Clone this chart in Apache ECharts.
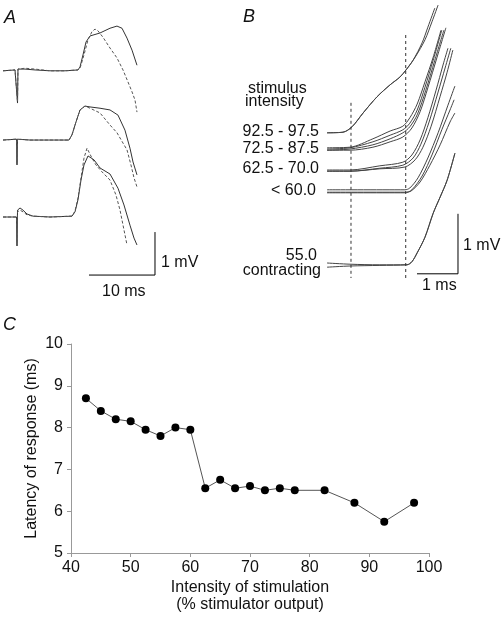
<!DOCTYPE html>
<html><head><meta charset="utf-8">
<script src="https://cdn.jsdelivr.net/npm/echarts@6/dist/echarts.min.js"></script>
<style>html,body{margin:0;padding:0;background:#fff}#c{width:502px;height:617px}</style>
</head><body><div id="c"></div>
<script>
// ---------- Panel A: traces (time ms, mV) ----------
const aTrace1Solid = [[0,5.33],[1.82,5.35],[2.12,5.37],[2.2,4.58],[2.27,5.37],[3.33,5.37],[4.85,5.35],[7.12,5.33],[9.39,5.33],[11.36,5.35],[11.67,5.42],[12.12,5.70],[12.58,6.00],[13.18,6.14],[14.70,6.21],[16.21,6.32],[17.27,6.37],[18.03,6.32],[18.79,6.09],[19.55,5.81],[20.30,5.46]];
const aTrace1Dash = [[0,5.33],[1.82,5.35],[2.12,5.37],[2.2,4.61],[2.27,5.37],[3.33,5.39],[4.85,5.37],[7.12,5.33],[9.39,5.33],[11.36,5.35],[11.67,5.39],[12.27,5.70],[12.88,6.05],[13.48,6.24],[13.94,6.30],[14.39,6.26],[15.15,6.11],[16.21,5.86],[17.27,5.63],[18.18,5.35],[18.94,5.07],[19.55,4.84],[20.0,4.65],[20.30,4.37]];
const aTrace2Solid = [[0,3.72],[2.05,3.74],[2.12,3.14],[2.2,3.74],[4.09,3.72],[7.12,3.72],[10.0,3.72],[10.45,3.84],[11.06,4.14],[11.67,4.42],[12.42,4.51],[13.18,4.49],[14.70,4.46],[16.21,4.42],[17.42,4.30],[18.48,3.95],[19.24,3.53],[19.70,3.21],[20.30,2.91]];
const aTrace2Dash = [[0,3.72],[2.05,3.74],[2.12,3.17],[2.2,3.74],[4.09,3.72],[7.12,3.72],[10.0,3.72],[10.45,3.84],[11.06,4.14],[11.67,4.42],[12.42,4.51],[13.18,4.46],[14.70,4.35],[16.21,4.07],[17.27,3.89],[18.18,3.65],[18.79,3.49],[19.39,3.14],[19.85,2.84],[20.30,2.63]];
const aTrace3Solid = [[0,1.93],[2.05,1.93],[2.12,1.26],[2.2,2.09],[2.58,2.14],[3.03,2.09],[3.64,2.00],[4.55,1.95],[7.12,1.93],[10.45,1.95],[10.91,2.05],[11.36,2.33],[11.82,2.79],[12.27,3.14],[12.88,3.35],[13.18,3.37],[13.79,3.26],[14.70,3.07],[16.21,2.93],[17.42,2.60],[18.33,2.21],[19.24,1.74],[19.85,1.44],[20.30,1.28]];
const aTrace3Dash = [[0,1.93],[2.05,1.93],[2.12,1.26],[2.2,2.05],[2.58,2.09],[3.03,2.05],[3.64,1.98],[4.55,1.95],[7.12,1.93],[10.45,1.95],[10.91,2.07],[11.36,2.37],[11.82,2.84],[12.27,3.30],[12.73,3.53],[13.03,3.53],[13.48,3.30],[14.09,3.14],[15.0,2.98],[16.21,2.79],[17.12,2.44],[17.73,2.09],[18.33,1.63],[18.79,1.28]];
const aScaleBar = [[13.03,0.58],[23.03,0.58],[23.03,1.58]];

// ---------- Panel B: traces (time ms, mV) ----------
const b925a = [[0,2.62],[0.39,2.63],[0.61,2.72],[0.88,2.95],[1.22,3.22],[1.54,3.42],[1.78,3.55],[1.93,3.67],[2.10,3.83],[2.32,4.12],[2.46,4.38],[2.63,4.70]];
const b925b = [[0,2.62],[0.39,2.63],[0.61,2.72],[0.88,2.95],[1.22,3.22],[1.54,3.42],[1.78,3.55],[1.93,3.67],[2.15,3.88],[2.39,4.17],[2.56,4.47],[2.71,4.75]];
const b725a = [[0,2.37],[0.56,2.38],[1.12,2.52],[1.54,2.65],[1.85,2.73],[2.02,2.87],[2.20,3.10],[2.39,3.47],[2.59,3.88],[2.78,4.33]];
const b725b = [[0,2.35],[0.56,2.37],[1.12,2.47],[1.54,2.58],[1.85,2.67],[2.02,2.78],[2.20,3.00],[2.39,3.38],[2.59,3.83],[2.80,4.33]];
const b725c = [[0,2.33],[0.56,2.35],[1.12,2.42],[1.54,2.52],[1.85,2.62],[2.02,2.72],[2.20,2.92],[2.41,3.33],[2.63,3.83],[2.85,4.33]];
const b725d = [[0,2.33],[0.56,2.33],[1.12,2.38],[1.54,2.47],[1.85,2.55],[2.07,2.70],[2.27,2.97],[2.46,3.37],[2.68,3.87],[2.90,4.37]];
const b625a = [[0,2.00],[0.56,2.00],[1.29,2.07],[1.85,2.13],[2.07,2.25],[2.27,2.50],[2.46,2.87],[2.66,3.33],[2.83,3.75],[2.95,4.03]];
const b625b = [[0,1.98],[0.56,1.98],[1.29,2.03],[1.85,2.08],[2.10,2.20],[2.29,2.43],[2.49,2.80],[2.71,3.30],[2.88,3.70],[3.02,4.03]];
const b625c = [[0,1.98],[0.56,1.98],[1.29,2.02],[1.90,2.05],[2.15,2.17],[2.34,2.38],[2.54,2.73],[2.76,3.23],[2.93,3.63],[3.07,4.00]];
const b60a = [[0,1.67],[1.90,1.67],[2.02,1.70],[2.22,1.87],[2.46,2.20],[2.71,2.62],[2.95,3.08],[3.12,3.40]];
const b60b = [[0,1.63],[1.90,1.63],[2.05,1.65],[2.27,1.80],[2.51,2.08],[2.76,2.42],[3.00,2.80],[3.12,2.95]];
const b60c = [[0,1.62],[1.90,1.62],[2.07,1.67],[2.32,1.90],[2.56,2.25],[2.80,2.67],[3.00,3.00],[3.10,3.17]];
const b55a = [[0,0.45],[0.56,0.43],[1.29,0.42],[1.95,0.42],[2.07,0.47],[2.20,0.62],[2.39,0.88],[2.59,1.28],[2.76,1.55],[2.93,1.83],[3.12,2.28]];
const b55b = [[0,0.38],[0.56,0.40],[1.29,0.41],[1.95,0.42],[2.07,0.47],[2.20,0.62],[2.39,0.88],[2.59,1.28],[2.76,1.55],[2.93,1.83],[3.12,2.28]];
const bMarker1 = [[0.585,3.12],[0.585,0.20]];
const bMarker2 = [[1.92,4.25],[1.92,0.20]];
const bScaleBar = [[2.195,0.27],[3.195,0.27],[3.195,1.27]];
const bLabels = ['92.5 - 97.5','72.5 - 87.5','62.5 - 70.0','< 60.0'];

// ---------- Panel C ----------
const intensity = [42.5,45,47.5,50,52.5,55,57.5,60,62.5,65,67.5,70,72.5,75,77.5,82.5,87.5,92.5,97.5];
const latency   = [8.7,8.4,8.2,8.15,7.95,7.8,8.0,7.95,6.55,6.75,6.55,6.6,6.5,6.55,6.5,6.5,6.2,5.75,6.2];
const xTicks = [40,50,60,70,80,90,100];
const yTicks = [5,6,7,8,9,10];

const FONT = 'Liberation Sans, Arial, sans-serif';
const traceColor = '#333';

function lineSeries(data, gi, opts) {
  opts = opts || {};
  return {
    type: 'line', xAxisIndex: gi, yAxisIndex: gi, data: data,
    showSymbol: false, symbol: 'none', animation: false, silent: true, clip: false,
    smooth: opts.smooth || false,
    lineStyle: { color: opts.color || traceColor, width: opts.width || 1, type: opts.type || 'solid' }
  };
}

const chart = echarts.init(document.getElementById('c'), null, { renderer: 'canvas' });

const series = [];
[aTrace1Solid, aTrace2Solid, aTrace3Solid].forEach(d => series.push(lineSeries(d, 0)));
[aTrace1Dash, aTrace2Dash, aTrace3Dash].forEach(d => series.push(lineSeries(d, 0, { type: [3, 2], color: '#555' })));
series.push(lineSeries(aScaleBar, 0, { color: '#000' }));
[b925a, b925b, b725a, b725b, b725c, b725d, b625a, b625b, b625c, b60a, b60b, b60c, b55a, b55b]
  .forEach(d => series.push(lineSeries(d, 1, { color: '#444', smooth: 0.3 })));
series.push(lineSeries(bMarker1, 1, { type: [3, 3], color: '#333' }));
series.push(lineSeries(bMarker2, 1, { type: [3, 3], color: '#333' }));
series.push(lineSeries(bScaleBar, 1, { color: '#000' }));
series.push({
  type: 'line', xAxisIndex: 2, yAxisIndex: 2,
  data: intensity.map((x, i) => [x, latency[i]]),
  symbol: 'circle', symbolSize: 8, showSymbol: true, animation: false,
  itemStyle: { color: '#000' },
  lineStyle: { color: '#555', width: 1 }
});

const hiddenAxis = (min, max, gi) => ({ type: 'value', gridIndex: gi, min, max, show: false });

const txt = (text, x, y, extra) => Object.assign({
  type: 'text', left: x, top: y,
  style: Object.assign({ text, font: '16px ' + FONT, fill: '#111' }, extra || {})
});

chart.setOption({
  animation: false,
  backgroundColor: '#fff',
  grid: [
    { left: 3, top: 0, width: 165, height: 300 },
    { left: 327, top: 0, width: 164, height: 290 },
    { left: 71, top: 344, width: 358, height: 209 }
  ],
  xAxis: [
    hiddenAxis(0, 25, 0),
    hiddenAxis(0, 4, 1),
    {
      type: 'value', gridIndex: 2, min: 40, max: 100, interval: 10,
      axisLine: { lineStyle: { color: '#999', width: 1 } },
      axisTick: { show: true, length: 4, lineStyle: { color: '#999' } },
      axisLabel: { color: '#111', fontSize: 16, fontFamily: FONT, margin: 7,
        formatter: v => xTicks.includes(v) ? String(v) : '' },
      splitLine: { show: false },
      name: 'Intensity of stimulation\n(% stimulator output)',
      nameLocation: 'middle', nameGap: 26, nameMoveOverlap: false,
      nameTextStyle: { color: '#111', fontSize: 16, fontFamily: FONT, lineHeight: 17 }
    }
  ],
  yAxis: [
    hiddenAxis(0, 300 / 43, 0),
    hiddenAxis(0, 290 / 60, 1),
    {
      type: 'value', gridIndex: 2, min: 5, max: 10, interval: 1,
      axisLine: { show: true, lineStyle: { color: '#999', width: 1 } },
      axisTick: { show: true, length: 4, lineStyle: { color: '#999' } },
      axisLabel: { color: '#111', fontSize: 16, fontFamily: FONT, margin: 8,
        formatter: v => yTicks.includes(v) ? String(v) : '' },
      splitLine: { show: false },
      name: 'Latency of response (ms)',
      nameLocation: 'middle', nameGap: 31, nameRotate: 90, nameMoveOverlap: false,
      nameTextStyle: { color: '#111', fontSize: 16, fontFamily: FONT }
    }
  ],
  series: series,
  graphic: [
    txt('A', 4, 9, { font: 'italic 18px ' + FONT }),
    txt('B', 243, 8, { font: 'italic 18px ' + FONT }),
    txt('C', 3, 316, { font: 'italic 18px ' + FONT }),
    txt('1 mV', 161, 255),
    txt('10 ms', 102, 284),
    txt('1 mV', 463, 238),
    txt('1 ms', 422, 278),
    { type: 'text', left: 248, top: 81, style: { text: 'stimulus', font: '16px ' + FONT, fill: '#111' } },
    { type: 'text', left: 245, top: 94, style: { text: 'intensity', font: '16px ' + FONT, fill: '#111' } },
    { type: 'text', right: 502 - 319, top: 124, style: { text: bLabels[0], font: '16px ' + FONT, fill: '#111' } },
    { type: 'text', right: 502 - 319, top: 141, style: { text: bLabels[1], font: '16px ' + FONT, fill: '#111' } },
    { type: 'text', right: 502 - 319, top: 161, style: { text: bLabels[2], font: '16px ' + FONT, fill: '#111' } },
    { type: 'text', right: 502 - 316, top: 183, style: { text: bLabels[3], font: '16px ' + FONT, fill: '#111' } },
    { type: 'text', right: 502 - 317, top: 248, style: { text: '55.0', font: '16px ' + FONT, fill: '#111' } },
    { type: 'text', right: 502 - 321, top: 263, style: { text: 'contracting', font: '16px ' + FONT, fill: '#111' } }
  ]
});
</script></body></html>
